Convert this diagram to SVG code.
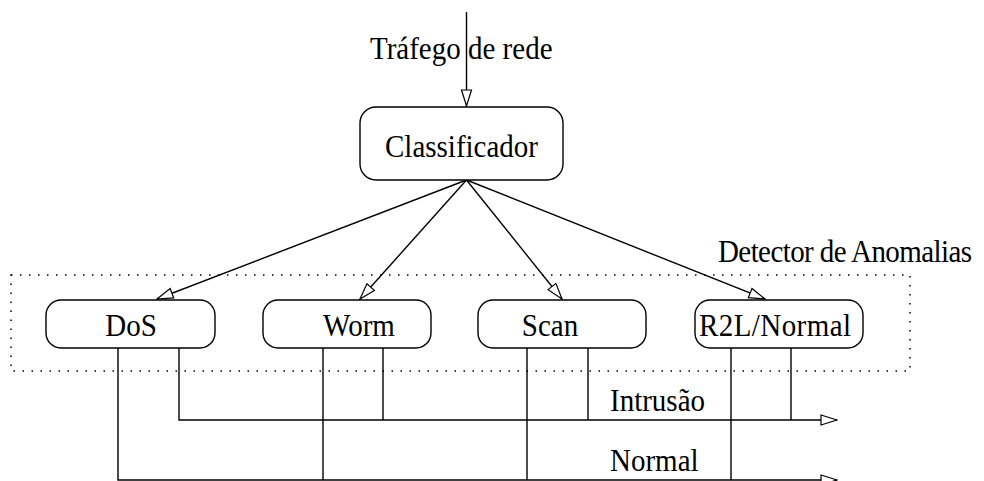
<svg xmlns="http://www.w3.org/2000/svg" width="984" height="481" viewBox="0 0 984 481">
<style>
.box{fill:#fff;stroke:#000;stroke-width:1.4}
.t{font-family:"Liberation Serif","Times New Roman",serif;font-size:29px;fill:#000}
.c{fill:none;stroke:#000;stroke-width:1.4}
.dot{fill:none;stroke:#000;stroke-width:1.5;stroke-dasharray:1.5 7.5}
</style>
<defs>
<marker id="ah" markerWidth="18" markerHeight="14" refX="17" refY="6.5" orient="auto" markerUnits="userSpaceOnUse">
<path d="M1,1.5 L17,6.5 L1,11.5 Z" fill="#fff" stroke="#000" stroke-width="1.2"/>
</marker>
</defs>
<rect x="0" y="0" width="984" height="481" fill="#fff"/>
<g id="detector">
<rect class="dot" x="11" y="275" width="899" height="96"/>
<text class="t" transform="translate(718,262) scale(1,1.09)" textLength="254">Detector de Anomalias</text>
</g>
<g id="connectors">
<line class="c" x1="466.5" y1="12" x2="466.5" y2="106" marker-end="url(#ah)"/>
<line class="c" x1="466.5" y1="180" x2="157" y2="299" marker-end="url(#ah)"/>
<line class="c" x1="466.5" y1="180" x2="360" y2="299" marker-end="url(#ah)"/>
<line class="c" x1="466.5" y1="180" x2="562" y2="299" marker-end="url(#ah)"/>
<line class="c" x1="466.5" y1="180" x2="765" y2="299" marker-end="url(#ah)"/>
<path class="c" d="M179,348 V420 H837" marker-end="url(#ah)"/>
<path class="c" d="M118,348 V480 H837" marker-end="url(#ah)"/>
<line class="c" x1="383" y1="348" x2="383" y2="420"/>
<line class="c" x1="323" y1="348" x2="323" y2="480"/>
<line class="c" x1="588" y1="348" x2="588" y2="420"/>
<line class="c" x1="527" y1="348" x2="527" y2="480"/>
<line class="c" x1="791" y1="348" x2="791" y2="420"/>
<line class="c" x1="731" y1="348" x2="731" y2="480"/>
<text class="t" transform="translate(610,411) scale(1,1.09)">Intrusão</text>
<text class="t" transform="translate(610,471) scale(1,1.09)">Normal</text>
<text class="t" transform="translate(370,59) scale(1,1.09)">Tráfego de rede</text>
</g>
<g id="classificador">
<rect class="box" x="360" y="107" width="203" height="73" rx="16"/>
<text class="t" transform="translate(461.5,157) scale(1,1.09)" text-anchor="middle">Classificador</text>
</g>
<g id="dos">
<rect class="box" x="46" y="300" width="169" height="48" rx="15"/>
<text class="t" transform="translate(131,336) scale(1,1.09)" text-anchor="middle">DoS</text>
</g>
<g id="worm">
<rect class="box" x="263" y="300" width="168" height="48" rx="15"/>
<text class="t" transform="translate(359,336) scale(1,1.09)" text-anchor="middle">Worm</text>
</g>
<g id="scan">
<rect class="box" x="478" y="300" width="168" height="48" rx="15"/>
<text class="t" transform="translate(550,336) scale(1,1.09)" text-anchor="middle">Scan</text>
</g>
<g id="r2l">
<rect class="box" x="695" y="300" width="168" height="48" rx="15"/>
<text class="t" transform="translate(699,336) scale(1,1.09)" textLength="152">R2L/Normal</text>
</g>
</svg>
